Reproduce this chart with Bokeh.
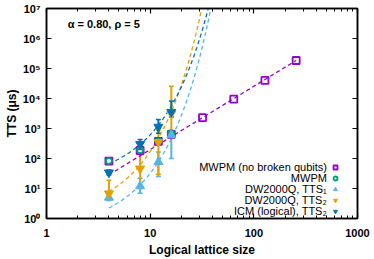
import numpy as np
from bokeh.plotting import figure
from bokeh.models import (LogAxis, FixedTicker, CustomJSTickFormatter, Whisker,
                          ColumnDataSource, Label, Legend, LegendItem, TeeHead, Range1d)
from bokeh.embed import file_html
from bokeh.resources import INLINE

# ---- data ----
L_nb = [4, 8, 12, 16, 32, 64, 128, 256]
tts_nb = [82, 185, 370, 640, 2300, 9500, 40000, 185000]

L_small = [4, 8, 12, 16]
tts_mwpm = [82, 190, 375, 680]

tts1 = [5, 12, 77, 600]
tts1_lo = [4, 7, 25, 100]
tts1_hi = [6.3, 22, 165, 700]

tts2 = [6.8, 46, 355, 3150]
tts2_lo = [4.6, 10, 30, 870]
tts2_hi = [19, 150, 870, 25700]

icm = [34, 300, 1130, 3550]
icm_lo = [28, 200, 700, 2400]
icm_hi = [41, 430, 2000, 8300]

# fit parameters
fit_nb = dict(L0=32, y0=2300, expo=2.11, Lmin=4, Lmax=256)        # power law
fit_tts2 = dict(a=0.90, b=0.222, Lmin=4, Lmax=34)                 # log10 y = a + b (L-4)
fit_tts1 = dict(a=0.35, b=0.193, Lmin=4, Lmax=40)
fit_icm = dict(a=1.83, b=0.160, Lmin=4, Lmax=38)

legend_labels = ["MWPM (no broken qubits)", "MWPM", "DW2000Q, TTS\u2081",
                 "DW2000Q, TTS\u2082", "ICM (logical), TTS\u2082"]

x_ticks = [1, 10, 100, 1000]
x_minor = [m * d for d in (1, 10, 100) for m in range(2, 10)]
y_ticks = [10 ** k for k in range(0, 8)]

PURPLE = "#9400D3"
GREEN = "#009E73"
LBLUE = "#56B4E9"
ORANGE = "#E69F00"
DBLUE = "#0072B2"
FONT = "Liberation Sans"

p = figure(width=374, height=259, x_axis_type="log", y_axis_type="log",
           x_range=Range1d(1, 1000), y_range=Range1d(1, 1e7),
           output_backend="svg", toolbar_location=None,
           min_border_left=46, min_border_right=17, min_border_top=8, min_border_bottom=41)
p.xgrid.visible = False
p.ygrid.visible = False
p.outline_line_color = "black"
p.outline_line_width = 1.5
p.background_fill_color = "white"
p.border_fill_color = "white"

sup = "const s='\u2070\u00b9\u00b2\u00b3\u2074\u2075\u2076\u2077\u2078\u2079'; const e=Math.round(Math.log10(tick)); return '10'+String(e).split('').map(c=>s[+c]).join('');"
ytf = CustomJSTickFormatter(code=sup)
xtf = CustomJSTickFormatter(code="return String(Math.round(tick));")
blank = CustomJSTickFormatter(code="return '';")


def style_axis(ax):
    ax.axis_line_color = "black"
    ax.axis_line_width = 1.5
    ax.major_tick_in = 5
    ax.major_tick_out = 0
    ax.minor_tick_in = 3
    ax.minor_tick_out = 0
    ax.major_tick_line_color = "black"
    ax.minor_tick_line_color = "black"
    ax.major_tick_line_width = 1.2
    ax.minor_tick_line_width = 1.0
    ax.major_label_text_font = FONT
    ax.major_label_text_font_style = "bold"
    ax.major_label_text_font_size = "11px"
    ax.major_label_text_color = "black"
    ax.axis_label_text_font = FONT
    ax.axis_label_text_font_style = "bold"
    ax.axis_label_text_font_size = "12px"
    ax.axis_label_text_color = "black"


xa = p.xaxis[0]
xa.ticker = FixedTicker(ticks=x_ticks, minor_ticks=x_minor)
xa.formatter = xtf
xa.axis_label = "Logical lattice size"
style_axis(xa)
xa.major_label_standoff = 10
xa.axis_label_standoff = 3

ya = p.yaxis[0]
ya.ticker = FixedTicker(ticks=y_ticks, minor_ticks=[])
ya.formatter = ytf
ya.axis_label = "TTS (\u03bcs)"
style_axis(ya)
ya.major_label_standoff = 6
ya.axis_label_standoff = 1

ax_top = LogAxis(ticker=FixedTicker(ticks=x_ticks, minor_ticks=x_minor), formatter=blank)
style_axis(ax_top)
ax_top.major_label_standoff = 0
p.add_layout(ax_top, "above")
ax_right = LogAxis(ticker=FixedTicker(ticks=y_ticks, minor_ticks=[]), formatter=blank)
style_axis(ax_right)
ax_right.major_label_standoff = 0
p.add_layout(ax_right, "right")

# ---- fit lines ----
def exp_fit(f):
    L = np.linspace(f["Lmin"], f["Lmax"], 200)
    return L, 10 ** (f["a"] + f["b"] * (L - 4))

Lp = np.geomspace(fit_nb["Lmin"], fit_nb["Lmax"], 100)
p.line(Lp, fit_nb["y0"] * (Lp / fit_nb["L0"]) ** fit_nb["expo"], line_color=PURPLE, line_width=1.3, line_dash="4 3")
for f, c in ((fit_tts1, LBLUE), (fit_tts2, ORANGE), (fit_icm, DBLUE)):
    Lx, Ly = exp_fit(f)
    p.line(Lx, Ly, line_color=c, line_width=1.3, line_dash="4 3")

# ---- data ----
def errbars(x, lo, hi, color):
    src = ColumnDataSource(dict(x=x, lo=lo, hi=hi))
    w = Whisker(source=src, base="x", lower="lo", upper="hi", dimension="height",
                line_color=color, line_width=2,
                lower_head=TeeHead(size=5, line_color=color, line_width=1.5),
                upper_head=TeeHead(size=5, line_color=color, line_width=1.5))
    p.add_layout(w)

r_nb = p.scatter(L_nb, tts_nb, marker="square", size=7, line_color=PURPLE, line_width=1.8, fill_alpha=0)
r_mw = p.scatter(L_small, tts_mwpm, marker="circle", size=6, line_color=GREEN, line_width=1.8, fill_alpha=0)
errbars(L_small, tts1_lo, tts1_hi, LBLUE)
r_t1 = p.scatter(L_small, tts1, marker="triangle", size=9, color=LBLUE)
errbars(L_small, tts2_lo, tts2_hi, ORANGE)
r_t2 = p.scatter(L_small, tts2, marker="inverted_triangle", size=9, color=ORANGE)
errbars(L_small, icm_lo, icm_hi, DBLUE)
r_icm = p.scatter(L_small, icm, marker="inverted_triangle", size=9, color=DBLUE)

lab = Label(x=1.6, y=10 ** 6.48, text="\u03b1 = 0.80, \u03c1 = 5", text_font=FONT,
            text_font_style="bold", text_font_size="11px", text_baseline="middle", text_color="black")
p.add_layout(lab)

# legend: icons through Bokeh's Legend, texts right-aligned to the left of them
legend = Legend(items=[LegendItem(label=" ", renderers=[r]) for r in (r_nb, r_mw, r_t1, r_t2, r_icm)],
                location=(283, 2), orientation="vertical")
legend.background_fill_alpha = 0
legend.border_line_alpha = 0
legend.padding = 0
legend.margin = 0
legend.spacing = 1
legend.glyph_width = 12
legend.glyph_height = 10
legend.label_height = 9
legend.label_standoff = 0
legend.label_text_font_size = "8px"
p.add_layout(legend)

row_logy = [1.72, 1.36, 0.99, 0.63, 0.26]
for txt, ly in zip(legend_labels, row_logy):
    p.add_layout(Label(x=10 ** 2.705, y=10 ** ly, text=txt, text_font=FONT, text_font_size="11px",
                       text_align="right", text_baseline="middle", text_color="black"))

open("out.html", "w").write(file_html(p, INLINE))
